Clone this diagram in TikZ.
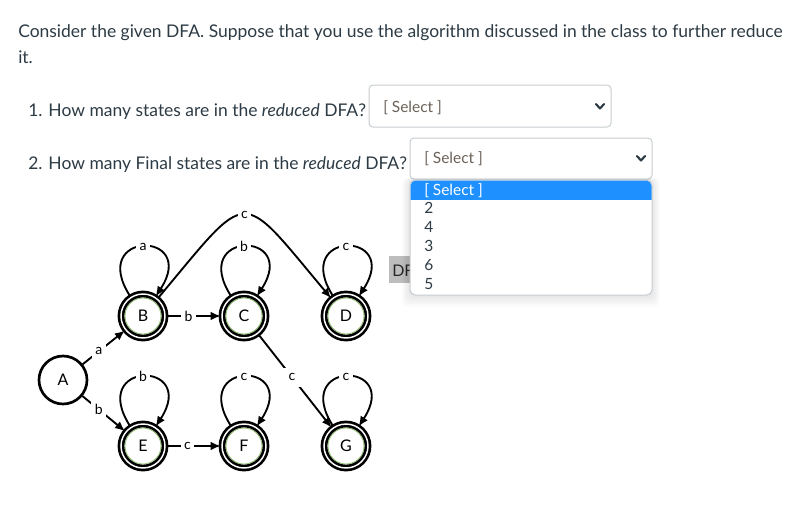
\documentclass[tikz,border=0pt]{standalone}
\usepackage{fontspec}
\setmainfont{Lato}
\usetikzlibrary{arrows.meta}
\definecolor{ink}{HTML}{2D3B45}
\definecolor{selgray}{HTML}{6B6259}
\definecolor{boxline}{HTML}{C7CDD1}
\definecolor{hilite}{HTML}{1E90FF}
\definecolor{ringgreen}{HTML}{7DB35A}
\definecolor{tipgray}{HTML}{BDBDBD}
\tikzset{
  state/.style={circle, draw, line width=2pt, minimum size=36pt, inner sep=0pt, font=\fontsize{12}{14}\selectfont},
  final/.style={state, line width=2pt, double=white, double distance=1.1pt, minimum size=33pt},
  trans/.style={line width=1.4pt, -{Latex[length=7.5pt,width=6.5pt]}},
  lab/.style={fill=white, inner sep=2.5pt, font=\fontsize{10.5}{12}\selectfont},
  selfloop/.style={out=123, in=57, looseness=8},
  txt/.style={anchor=base west, inner sep=0pt, text=ink, font=\fontsize{13.1}{15}\selectfont},
  seltxt/.style={anchor=base west, inner sep=0pt, font=\fontsize{11.6}{13}\selectfont},
  selbox/.style={draw=boxline, rounded corners=3pt, line width=0.75pt, fill=white},
  chev/.style={line width=1.6pt, ink, line cap=round, line join=round},
}
\begin{document}
\begin{tikzpicture}[x=0.75pt, y=0.75pt]
  \useasboundingbox[fill=white] (0,0) rectangle (806,-508);
  % question text
  \node[txt] (intro) at (18,-37.5) {Consider the given DFA. Suppose that you use the algorithm discussed in the class to further reduce};
  \node[txt] (intro2) at (18,-63) {it.};
  \node[txt] (q1) at (28,-116) {1. How many states are in the \textit{reduced} DFA?};
  \node[txt] (q2) at (28,-169) {2. How many Final states are in the \textit{reduced} DFA?};
  % first drop-down
  \draw[selbox] (369,-85) rectangle (611,-127);
  \node[seltxt, text=selgray] (sel1) at (383,-112) {[ Select ]};
  \draw[chev] (596,-104) -- (600,-108.5) -- (604,-104);
  % second drop-down
  \draw[selbox] (410,-138) rectangle (652,-179);
  \node[seltxt, text=selgray] (sel2) at (424,-163) {[ Select ]};
  \draw[chev] (637,-156) -- (641,-160.5) -- (645,-156);
  % tooltip behind the list
  \fill[tipgray] (389,-256) rectangle (414,-283);
  \node[seltxt, text=black!85, font=\fontsize{12}{14}\selectfont] (tip) at (392,-276) {DF};
  % open list
  \foreach \s in {1,...,8}
    \fill[black, opacity=0.012, rounded corners=4pt] (410-\s,-180+0.3*\s) rectangle (652+\s,-295-1.5*\s);
  \draw[selbox, rounded corners=4pt] (410,-180) rectangle (652,-295);
  \begin{scope}
    \clip[rounded corners=4pt] (410.5,-180.5) rectangle (651.5,-294.5);
    \fill[hilite] (410,-180) rectangle (652,-199.5);
  \end{scope}
  \node[seltxt, text=white] (opt0) at (424,-195) {[ Select ]};
  \foreach \v [count=\i] in {2,4,3,6,5}
    \node[seltxt, text=ink] (opt\i) at (424,-194-19*\i) {\v};
  % the DFA
  \node[state] (A) at (63,-380) {A};
  \node[final] (B) at (143,-316) {B};
  \node[final] (C) at (244,-316) {C};
  \node[final] (D) at (346,-316) {D};
  \node[final] (E) at (143,-446) {E};
  \node[final] (F) at (244,-446) {F};
  \node[final] (G) at (346,-446) {G};
  \foreach \n in {B,C,D,E,F,G}
    \draw[ringgreen, line width=0.5pt] (\n) circle (13.5pt);
  \draw[trans] (A) -- node[lab, pos=.38] {a} (B);
  \draw[trans] (A) -- node[lab, pos=.38] {b} (E);
  \draw[trans] (B) -- node[lab, pos=.41] {b} (C);
  \draw[trans] (E) -- node[lab, pos=.39] {c} (F);
  \draw[trans] (C) -- node[lab, pos=.46, inner sep=4.5pt] {c} (G);
  \draw[trans] (B) to[out=50, in=130, looseness=2.15] node[lab] {c} (D);
  \draw[trans] (B) to[selfloop] node[lab] {a} (B);
  \draw[trans] (C) to[selfloop] node[lab] {b} (C);
  \draw[trans] (D) to[selfloop] node[lab] {c} (D);
  \draw[trans] (E) to[selfloop] node[lab] {b} (E);
  \draw[trans] (F) to[selfloop] node[lab] {c} (F);
  \draw[trans] (G) to[selfloop] node[lab] {c} (G);
\end{tikzpicture}
\end{document}
